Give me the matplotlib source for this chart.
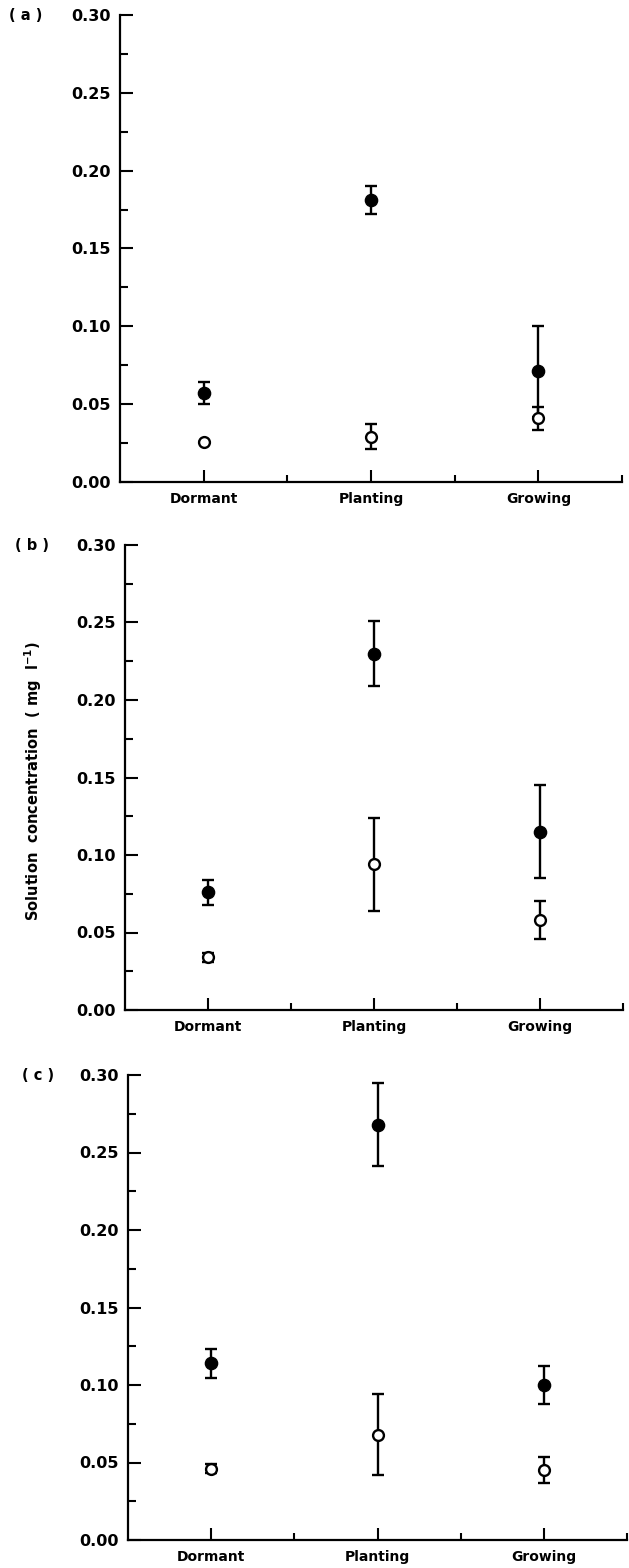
import matplotlib
matplotlib.use("Agg")
import matplotlib.pyplot as plt
from matplotlib.ticker import MultipleLocator, FixedLocator

categories = ["Dormant", "Planting", "Growing"]
cat_pos = [1, 3, 5]

a_filled = [0.057, 0.181, 0.071]
a_filled_err = [0.007, 0.009, 0.029]
a_open = [0.026, 0.029, 0.041]
a_open_err = [0.0, 0.008, 0.0075]

b_filled = [0.076, 0.230, 0.115]
b_filled_err = [0.008, 0.021, 0.030]
b_open = [0.034, 0.094, 0.058]
b_open_err = [0.003, 0.030, 0.0125]

c_filled = [0.114, 0.268, 0.100]
c_filled_err = [0.0095, 0.027, 0.012]
c_open = [0.046, 0.068, 0.045]
c_open_err = [0.003, 0.026, 0.0085]

panel_labels = ["( a )", "( b )", "( c )"]
ylabel = "Solution  concentration  ( mg  l$^{-1}$)"

W, H = 629, 1568
plt.rcParams["font.family"] = ["DejaVu Sans"]
plt.rcParams["mathtext.default"] = "bf"
fig = plt.figure(figsize=(W / 100, H / 100), dpi=100)

# axes boxes in pixels: left, right, top, bottom
boxes = [(120, 622, 15, 482), (125, 623, 545, 1010), (128, 627, 1075, 1540)]
data = [
    (a_filled, a_filled_err, a_open, a_open_err),
    (b_filled, b_filled_err, b_open, b_open_err),
    (c_filled, c_filled_err, c_open, c_open_err),
]
label_x = [9, 15, 22]

for i, (box, d) in enumerate(zip(boxes, data)):
    l, r, t, b = box
    ax = fig.add_axes([l / W, (H - b) / H, (r - l) / W, (b - t) / H])
    filled, ferr, opn, oerr = d
    ax.errorbar(cat_pos, filled, yerr=ferr, fmt="o", color="black",
                markersize=8.8, elinewidth=1.7, capsize=4.3, capthick=1.7, zorder=3)
    ax.errorbar(cat_pos, opn, yerr=oerr, fmt="o", color="black",
                markerfacecolor="white", markeredgecolor="black", markeredgewidth=1.7,
                markersize=7.8, elinewidth=1.7, capsize=4.3, capthick=1.7, zorder=3)
    ax.set_xlim(0, 6)
    ax.set_ylim(0, 0.30)
    ax.spines["top"].set_visible(False)
    ax.spines["right"].set_visible(False)
    for s in ("left", "bottom"):
        ax.spines[s].set_linewidth(1.6)
    ax.yaxis.set_major_locator(MultipleLocator(0.05))
    ax.yaxis.set_minor_locator(MultipleLocator(0.025))
    ax.set_yticklabels([f"{v:.2f}" for v in ax.get_yticks()])
    ax.xaxis.set_major_locator(FixedLocator(cat_pos))
    ax.xaxis.set_minor_locator(FixedLocator([2, 4, 6]))
    ax.set_xticklabels(categories)
    ax.tick_params(axis="y", which="major", direction="in", length=9, width=1.5,
                   labelsize=11.5, pad=7)
    ax.tick_params(axis="y", which="minor", direction="in", length=6, width=1.5)
    ax.tick_params(axis="x", which="major", direction="in", length=9, width=1.5,
                   labelsize=10, pad=7)
    ax.tick_params(axis="x", which="minor", direction="in", length=5, width=1.5)
    for lab in ax.get_xticklabels() + ax.get_yticklabels():
        lab.set_fontweight("bold")
    fig.text(label_x[i] / W, 1 - (t + 1) / H, panel_labels[i], fontsize=10.5,
             fontweight="bold", ha="left", va="center")
    if i == 1:
        fig.text(33 / W, 1 - 781 / H, ylabel, rotation=90, fontsize=10.5,
                 fontweight="bold", ha="center", va="center")

fig.savefig("out.png", dpi=100)
